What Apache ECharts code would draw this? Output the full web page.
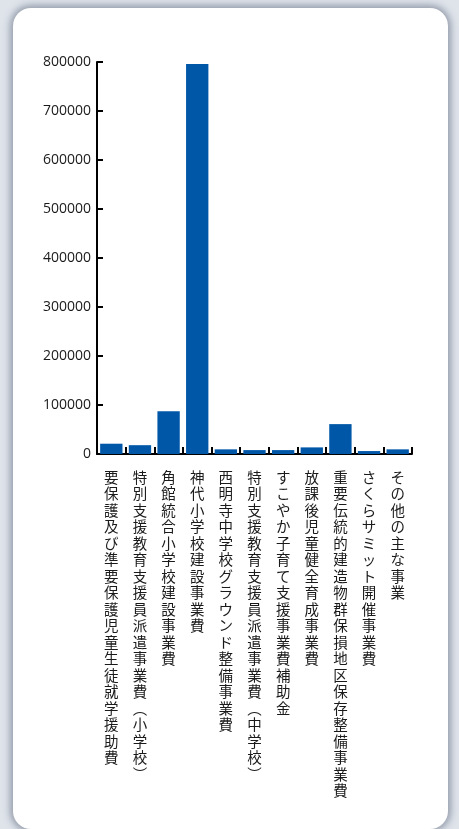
<!DOCTYPE html>
<html>
<head>
<meta charset="utf-8">
<script src="https://cdn.jsdelivr.net/npm/echarts@6/dist/echarts.min.js"></script>
<style>
html,body{margin:0;padding:0;width:459px;height:829px;overflow:hidden;background:#dfe4eb;}
#card{position:absolute;left:13px;top:8px;width:435px;height:821px;background:#fff;border-radius:18px;box-shadow:0 0 7px 3px rgba(90,100,120,0.55);}
#chart{position:absolute;left:0;top:0;width:459px;height:829px;}
</style>
</head>
<body>
<div id="card"></div>
<div id="chart"></div>
<script>
const categories = [
  '要保護及び準要保護児童生徒就学援助費',
  '特別支援教育支援員派遣事業費︵小学校︶',
  '角館統合小学校建設事業費',
  '神代小学校建設事業費',
  '西明寺中学校グラウンド整備事業費',
  '特別支援教育支援員派遣事業費︵中学校︶',
  'すこやか子育て支援事業費補助金',
  '放課後児童健全育成事業費',
  '重要伝統的建造物群保損地区保存整備事業費',
  'さくらサミット開催事業費',
  'その他の主な事業'
];
const values = [21000, 18000, 87000, 796000, 9500, 8000, 8000, 13500, 61000, 6000, 9500];
const yTicks = { min: 0, max: 800000, interval: 100000 };

const chart = echarts.init(document.getElementById('chart'), null, {renderer: 'canvas'});
chart.setOption({
  animation: false,
  backgroundColor: 'transparent',
  grid: { left: 97, right: 47, top: 62, bottom: 375, containLabel: false },
  xAxis: {
    type: 'category',
    data: categories,
    axisLine: { lineStyle: { color: '#000', width: 2 } },
    axisTick: { show: true, inside: true, length: 7, alignWithLabel: false, lineStyle: { color: '#000', width: 2 } },
    axisLabel: {
      interval: 0,
      margin: 15,
      verticalAlign: 'top',
      formatter: function (v) { return '{c|' + Array.from(v).join('}\n{c|') + '}'; },
      rich: {
        c: { color: '#1a1a1a', fontFamily: 'Noto Sans CJK JP', fontSize: 14.5, lineHeight: 16.5, align: 'center' }
      }
    }
  },
  yAxis: {
    type: 'value',
    min: yTicks.min, max: yTicks.max, interval: yTicks.interval,
    axisLine: { show: true, lineStyle: { color: '#000', width: 2 } },
    axisTick: { show: true, inside: true, length: 6, lineStyle: { color: '#000', width: 2 } },
    splitLine: { show: false },
    axisLabel: { color: '#1a1a1a', fontFamily: 'Open Sans', fontSize: 14, margin: 6, formatter: function (v) { return String(v); } }
  },
  series: [{
    type: 'bar',
    data: values,
    barCategoryGap: '22%',
    itemStyle: { color: '#0057a8' }
  }]
});
</script>
</body>
</html>
